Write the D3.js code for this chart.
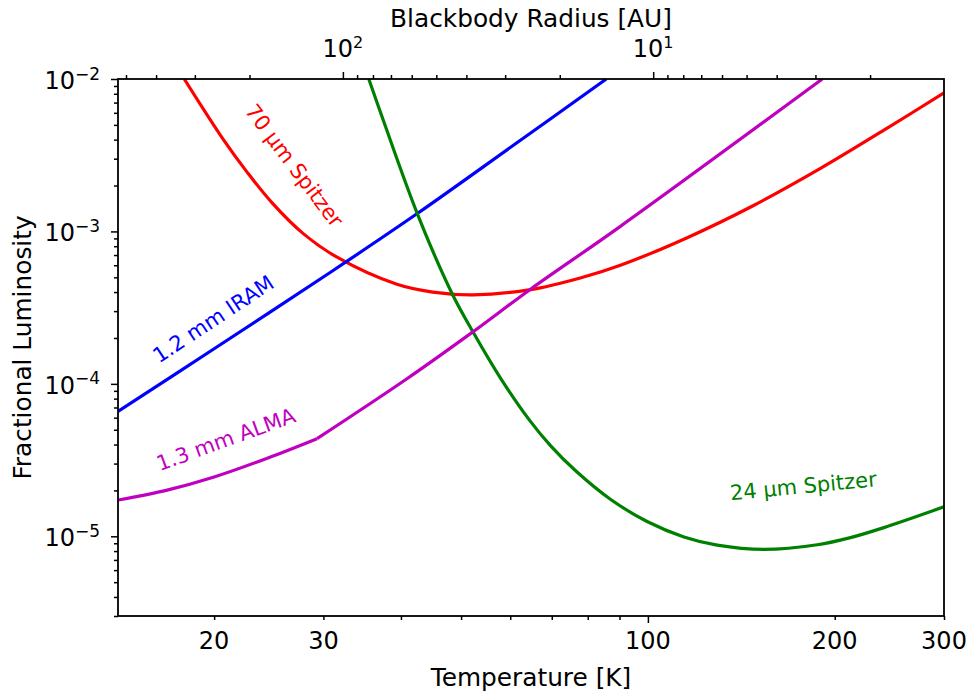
<!DOCTYPE html>
<html>
<head>
<meta charset="utf-8">
<title>Fractional luminosity detection limits</title>
<script src="https://d3js.org/d3.v7.min.js"></script>
<style>
  body { margin: 0; background: #fff; }
  text { font-family: "DejaVu Sans", sans-serif; }
</style>
</head>
<body>
<svg width="970" height="692"></svg>
<script>
// axis limits
const tempDomain = [14, 300];
const fracDomain = [3e-6, 1e-2];
// blackbody radius [AU] = radiusConst / T^2
const radiusConst = 104000;

// curves: temperature [K] and fractional luminosity
const spitzer70T = [17.9, 20.7, 22.6, 24.8, 27.9, 31.5, 39.4, 45, 52.3, 64.7, 77.8, 90.3, 115.7, 148, 190, 243, 300];
const spitzer70F = [1.0e-2, 4.0e-3, 2.45e-3, 1.54e-3, 9.6e-4, 6.8e-4, 4.5e-4, 4.0e-4, 3.84e-4, 4.15e-4, 4.95e-4, 6.0e-4, 9.1e-4, 1.48e-3, 2.6e-3, 4.76e-3, 8.1e-3];

const iram12T = [14, 20, 30.8, 42.5, 60, 85.7];
const iram12F = [6.6e-5, 1.7e-4, 5.4e-4, 1.31e-3, 3.55e-3, 1.0e-2];

const alma13T = [14, 16.8, 20, 24.3, 29.3, 40.9, 52.3, 64.7, 90.3, 191];
const alma13F = [1.73e-5, 2.01e-5, 2.45e-5, 3.24e-5, 4.37e-5, 1.08e-4, 2.2e-4, 4.18e-4, 1.08e-3, 1.0e-2];
const alma13Kink = 29.3;

const spitzer24T = [35.5, 37.5, 42.5, 48.3, 52.3, 57.8, 64.3, 69.6, 76.4, 87, 99.7, 114.3, 129.3, 153.8, 187.5, 212, 240, 300];
const spitzer24F = [1e-2, 5.3e-3, 1.31e-3, 3.95e-4, 2.18e-4, 1.1e-4, 5.85e-5, 3.95e-5, 2.7e-5, 1.75e-5, 1.25e-5, 9.9e-6, 8.75e-6, 8.2e-6, 8.8e-6, 9.8e-6, 1.14e-5, 1.56e-5];

// ticks
const tempMajor = [100];
const tempMinor = [20, 30, 40, 50, 60, 70, 80, 90, 200, 300];
const tempLabels = [20, 30, 100, 200, 300];
const fracMajor = [1e-5, 1e-4, 1e-3, 1e-2];
const fracExponents = [-5, -4, -3, -2];
const radiusMajor = [100, 10];
const radiusExponents = [2, 1];
const radiusMinor = [2, 3, 4, 5, 6, 7, 8, 9, 20, 30, 40, 50, 60, 70, 80, 90, 200, 300, 400, 500];

const svg = d3.select("svg");
const pLeft = 118, pRight = 944, pTop = 79, pBottom = 616;

const x = d3.scaleLog().domain(tempDomain).range([pLeft, pRight]);
const y = d3.scaleLog().domain(fracDomain).range([pBottom, pTop]);
const xr = d3.scaleLog()
  .domain(tempDomain.map(t => radiusConst / (t * t)))
  .range([pLeft, pRight]);

const fracMinor = [];
for (let e = -6; e <= -3; e++) {
  for (let m = 2; m <= 9; m++) {
    const v = m * Math.pow(10, e);
    if (v >= fracDomain[0] && v <= fracDomain[1]) fracMinor.push(v);
  }
}

svg.append("defs").append("clipPath").attr("id", "plot")
  .append("rect")
  .attr("x", pLeft).attr("y", pTop)
  .attr("width", pRight - pLeft).attr("height", pBottom - pTop);

// curves
const line = d3.line()
  .x(d => x(d.t))
  .y(d => y(d.f))
  .curve(d3.curveCatmullRom.alpha(0.5));

const zip = (ts, fs) => ts.map((t, i) => ({ t: t, f: fs[i] }));
const almaPts = zip(alma13T, alma13F);

const series = [
  { pts: zip(spitzer70T, spitzer70F), color: "#ff0000" },
  { pts: zip(iram12T, iram12F), color: "#0000ff" },
  { pts: zip(spitzer24T, spitzer24F), color: "#008000" },
  { pts: almaPts.filter(d => d.t <= alma13Kink), color: "#bf00bf" },
  { pts: almaPts.filter(d => d.t >= alma13Kink), color: "#bf00bf" }
];

svg.append("g").attr("clip-path", "url(#plot)")
  .selectAll("path")
  .data(series)
  .enter()
  .append("path")
  .attr("d", d => line(d.pts))
  .attr("fill", "none")
  .attr("stroke", d => d.color)
  .attr("stroke-width", 3.2)
  .attr("stroke-linejoin", "round");

// curve labels
const labels = [
  { text: "70 \u00b5m Spitzer", t: 26.9, f: 2.7e-3, angle: 53, color: "#ff0000" },
  { text: "1.2 mm IRAM", t: 19.95, f: 2.65e-4, angle: -33.5, color: "#0000ff" },
  { text: "1.3 mm ALMA", t: 20.9, f: 4.3e-5, angle: -20, color: "#bf00bf" },
  { text: "24 \u00b5m Spitzer", t: 178, f: 2.13e-5, angle: -5.5, color: "#008000" }
];

svg.append("g")
  .selectAll("text")
  .data(labels)
  .enter()
  .append("text")
  .attr("transform", d => `translate(${x(d.t)},${y(d.f)}) rotate(${d.angle})`)
  .attr("text-anchor", "middle")
  .attr("dominant-baseline", "central")
  .attr("font-size", 21)
  .attr("fill", d => d.color)
  .text(d => d.text);

// axes
function styleAxis(g) {
  g.select(".domain").remove();
  g.selectAll(".tick line").attr("stroke", "#000").attr("stroke-width", 1.5);
  g.selectAll(".tick text").remove();
}

svg.append("g").attr("transform", `translate(0,${pBottom})`)
  .call(d3.axisBottom(x).tickValues(tempMinor).tickSize(4).tickFormat(""))
  .call(styleAxis);
svg.append("g").attr("transform", `translate(0,${pBottom})`)
  .call(d3.axisBottom(x).tickValues(tempMajor).tickSize(7).tickFormat(""))
  .call(styleAxis);

svg.append("g").attr("transform", `translate(${pLeft},0)`)
  .call(d3.axisLeft(y).tickValues(fracMinor).tickSize(4).tickFormat(""))
  .call(styleAxis);
svg.append("g").attr("transform", `translate(${pLeft},0)`)
  .call(d3.axisLeft(y).tickValues(fracMajor).tickSize(7).tickFormat(""))
  .call(styleAxis);

svg.append("g").attr("transform", `translate(0,${pTop})`)
  .call(d3.axisTop(xr).tickValues(radiusMinor).tickSize(4).tickFormat(""))
  .call(styleAxis);
svg.append("g").attr("transform", `translate(0,${pTop})`)
  .call(d3.axisTop(xr).tickValues(radiusMajor).tickSize(7).tickFormat(""))
  .call(styleAxis);

// frame
svg.append("rect")
  .attr("x", pLeft).attr("y", pTop)
  .attr("width", pRight - pLeft).attr("height", pBottom - pTop)
  .attr("fill", "none")
  .attr("stroke", "#000")
  .attr("stroke-width", 1.8);

// tick labels
svg.append("g")
  .selectAll("text")
  .data(tempLabels)
  .enter()
  .append("text")
  .attr("x", d => x(d))
  .attr("y", 649)
  .attr("text-anchor", "middle")
  .attr("font-size", 24)
  .text(d => d);

const yLab = svg.append("g")
  .selectAll("text")
  .data(fracMajor)
  .enter()
  .append("text")
  .attr("x", 100)
  .attr("y", d => y(d) + 10)
  .attr("text-anchor", "end")
  .attr("font-size", 24);
yLab.append("tspan").text("10");
yLab.append("tspan")
  .attr("font-size", 17)
  .attr("dy", -9.5)
  .text((d, i) => "\u2212" + (-fracExponents[i]));

const rLab = svg.append("g")
  .selectAll("text")
  .data(radiusMajor)
  .enter()
  .append("text")
  .attr("x", d => xr(d))
  .attr("y", 57)
  .attr("text-anchor", "middle")
  .attr("font-size", 24);
rLab.append("tspan").text("10");
rLab.append("tspan")
  .attr("font-size", 16)
  .attr("dy", -9)
  .text((d, i) => radiusExponents[i]);

// axis titles
svg.append("text")
  .attr("x", (pLeft + pRight) / 2)
  .attr("y", 686)
  .attr("text-anchor", "middle")
  .attr("font-size", 24.8)
  .text("Temperature [K]");

svg.append("text")
  .attr("x", (pLeft + pRight) / 2)
  .attr("y", 27)
  .attr("text-anchor", "middle")
  .attr("font-size", 24.8)
  .text("Blackbody Radius [AU]");

svg.append("text")
  .attr("transform", `translate(31,${(pTop + pBottom) / 2}) rotate(-90)`)
  .attr("text-anchor", "middle")
  .attr("font-size", 24.8)
  .text("Fractional Luminosity");
</script>
</body>
</html>
